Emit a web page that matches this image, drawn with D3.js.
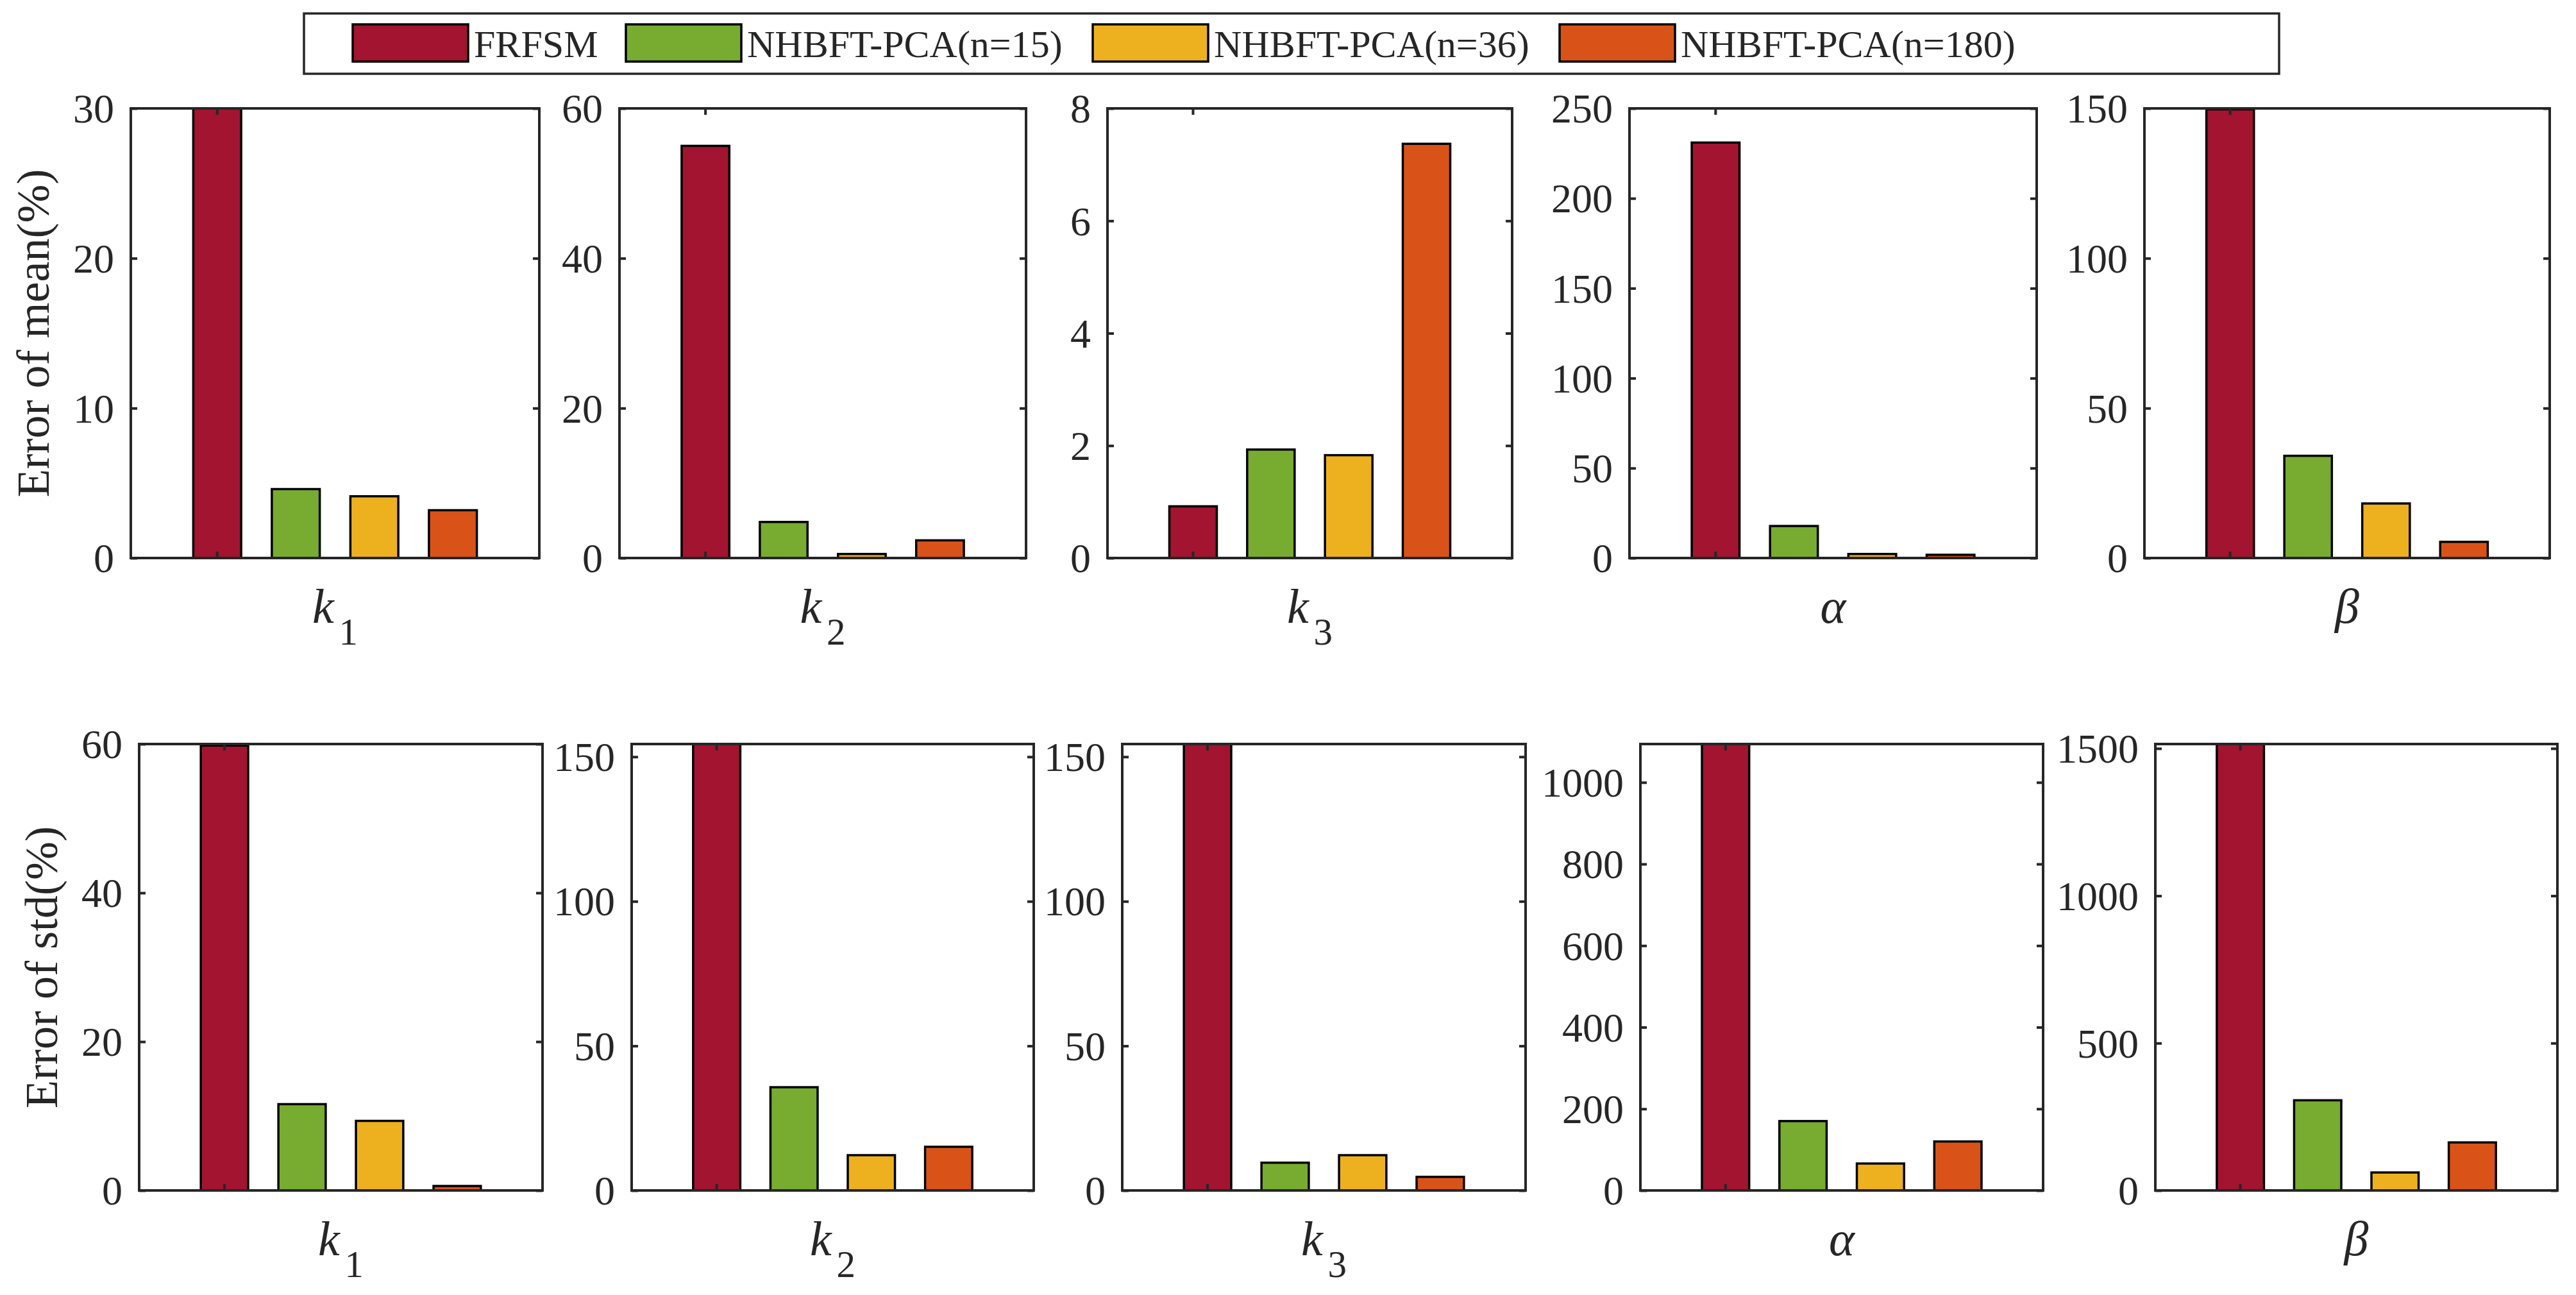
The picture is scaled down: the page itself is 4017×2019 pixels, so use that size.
<!DOCTYPE html>
<html>
<head>
<meta charset="utf-8">
<script src="https://cdn.jsdelivr.net/npm/d3@7"></script>
<style>
  body { margin: 0; background: #fff; }
  svg { display: block; }
  text { font-family: 'Liberation Serif', 'Times New Roman', serif; fill: #262626; }
</style>
</head>
<body>
<svg id="chart"></svg>
<script>
// methods (legend order) and colours
const methods = ['FRFSM', 'NHBFT-PCA(n=15)', 'NHBFT-PCA(n=36)', 'NHBFT-PCA(n=180)'];
const colors = ['#A2142F', '#77AC30', '#EDB120', '#D95319'];

// parameters, one panel each
const paramNames = ['k', 'k', 'k', 'α', 'β'];
const paramSubs = ['1', '2', '3', '', ''];

// error of mean (%), one row per parameter, values in method order
const meanValues = [
  [30, 4.6, 4.12, 3.19],
  [55.0, 4.81, 0.54, 2.36],
  [0.92, 1.93, 1.83, 7.37],
  [231, 17.8, 2.25, 1.8],
  [149.7, 34.1, 18.2, 5.4],
];
const meanYMax = [30, 60, 8, 250, 150];
const meanTicks = [
  [0, 10, 20, 30],
  [0, 20, 40, 60],
  [0, 2, 4, 6, 8],
  [0, 50, 100, 150, 200, 250],
  [0, 50, 100, 150],
];

// error of std (%)
const stdValues = [
  [59.8, 11.6, 9.35, 0.6],
  [154.4, 35.7, 12.2, 15.1],
  [154.4, 9.6, 12.2, 4.7],
  [1094, 170, 66, 120],
  [1515, 306, 61, 163],
];
const stdYMax = [60, 154.4, 154.4, 1094, 1515];
const stdTicks = [
  [0, 20, 40, 60],
  [0, 50, 100, 150],
  [0, 50, 100, 150],
  [0, 200, 400, 600, 800, 1000],
  [0, 500, 1000, 1500],
];

let width = 4017;
let height = 2019;
let axisColor = '#262626';

let svg = d3.select('#chart').attr('width', width).attr('height', height);
svg.append('rect').attr('width', width).attr('height', height).attr('fill', '#fff');

// panel boxes [left, right] for each row
let rows = [
  {
    label: 'Error of mean(%)', values: meanValues, ymax: meanYMax, ticks: meanTicks,
    top: 169, bottom: 870,
    xs: [[204, 841], [966, 1600], [1727, 2358], [2541, 3176], [3344, 3976]],
  },
  {
    label: 'Error of std(%)', values: stdValues, ymax: stdYMax, ticks: stdTicks,
    top: 1160, bottom: 1856,
    xs: [[217, 846], [985, 1612], [1750, 2379], [2558, 3186], [3361, 3988]],
  },
];

rows.forEach((row, r) => {
  row.xs.forEach((xr, p) => {
    let w = xr[1] - xr[0];
    let h = row.bottom - row.top;
    let g = svg.append('g').attr('transform', `translate(${xr[0]},${row.top})`);

    let x = d3.scaleBand().domain(methods).range([0, w])
      .paddingInner(0.39).paddingOuter(0.795);
    let y = d3.scaleLinear().domain([0, row.ymax[p]]).range([h, 0]);

    let clipId = `clip-${r}-${p}`;
    g.append('clipPath').attr('id', clipId)
      .append('rect').attr('width', w).attr('height', h);

    g.append('g').attr('clip-path', `url(#${clipId})`)
      .selectAll('rect')
      .data(row.values[p])
      .join('rect')
      .attr('x', (d, i) => x(methods[i]))
      .attr('width', x.bandwidth())
      .attr('y', (d) => y(Math.min(d, row.ymax[p])))
      .attr('height', (d) => h - y(Math.min(d, row.ymax[p])))
      .attr('fill', (d, i) => colors[i])
      .attr('stroke', '#000')
      .attr('stroke-width', 3.5);

    // y axis left with labels, ticks inward
    let yl = g.append('g').call(
      d3.axisLeft(y).tickValues(row.ticks[p]).tickSizeInner(-10).tickSizeOuter(0)
        .tickPadding(26).tickFormat(d3.format('d'))
    );
    let yr = g.append('g').attr('transform', `translate(${w},0)`).call(
      d3.axisRight(y).tickValues(row.ticks[p]).tickSizeInner(-10).tickSizeOuter(0).tickFormat('')
    );
    let xb = g.append('g').attr('transform', `translate(0,${h})`).call(
      d3.axisBottom(x).tickValues([methods[0]]).tickSizeInner(-10).tickSizeOuter(0).tickFormat('')
    );
    let xt = g.append('g').call(
      d3.axisTop(x).tickValues([methods[0]]).tickSizeInner(-10).tickSizeOuter(0).tickFormat('')
    );
    [yl, yr, xb, xt].forEach((a) => {
      a.select('.domain').remove();
      a.selectAll('line').attr('stroke', axisColor).attr('stroke-width', 4);
      a.selectAll('text').attr('font-size', 64).attr('fill', axisColor)
        .attr('font-family', "'Liberation Serif', serif");
    });
    yl.selectAll('text').attr('dy', '0.34em');

    // frame
    g.append('rect').attr('width', w).attr('height', h)
      .attr('fill', 'none').attr('stroke', axisColor).attr('stroke-width', 4);

    // x label
    let xl = g.append('text')
      .attr('x', w / 2).attr('y', h + 101)
      .attr('text-anchor', 'middle');
    xl.append('tspan').text(paramNames[p])
      .attr('font-style', 'italic').attr('font-size', 76);
    if (paramSubs[p]) {
      xl.append('tspan').text(paramSubs[p])
        .attr('font-size', 59).attr('dx', 8).attr('dy', 34);
    }

    // y label on first panel of the row
    if (p === 0) {
      g.append('text')
        .attr('transform', `translate(-128,${h / 2}) rotate(-90)`)
        .attr('text-anchor', 'middle')
        .attr('font-size', 72)
        .text(row.label);
    }
  });
});

// legend
let legend = svg.append('g');
legend.append('rect')
  .attr('x', 474).attr('y', 21).attr('width', 3080).attr('height', 94)
  .attr('fill', '#fff').attr('stroke', axisColor).attr('stroke-width', 3.5);
let legendX = [550, 976, 1704, 2432];
let items = legend.selectAll('g.item').data(methods).join('g')
  .attr('class', 'item')
  .attr('transform', (d, i) => `translate(${legendX[i]},0)`);
items.append('rect')
  .attr('y', 38).attr('width', 180).attr('height', 58)
  .attr('fill', (d, i) => colors[i])
  .attr('stroke', '#000').attr('stroke-width', 3.5);
items.append('text')
  .attr('x', 189).attr('y', 89)
  .attr('font-size', 60)
  .text((d) => d);
</script>
</body>
</html>
